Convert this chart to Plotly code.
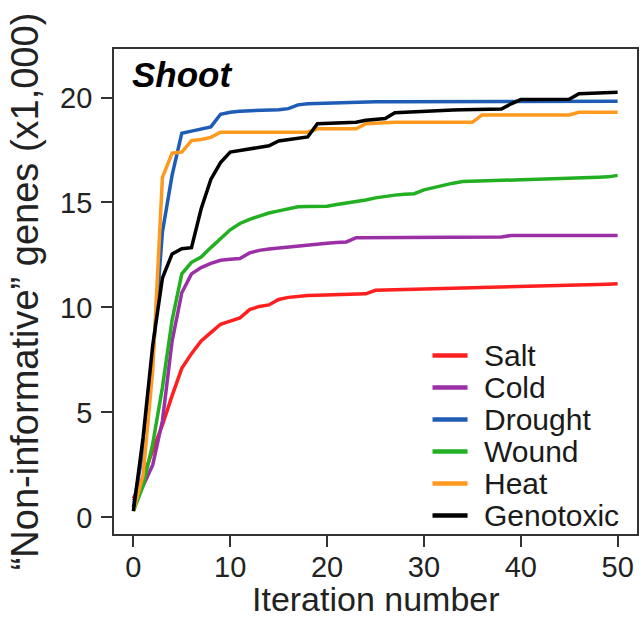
import plotly.graph_objects as go

iterations = list(range(51))

salt = [0.9, 1.9, 3.2, 4.4, 5.8, 7.1, 7.8, 8.4, 8.8, 9.2, 9.35, 9.5, 9.9, 10.05, 10.12,
        10.38, 10.48, 10.53, 10.57, 10.58, 10.6, 10.61, 10.62, 10.63, 10.65, 10.82, 10.84,
        10.85, 10.86, 10.87, 10.88, 10.89, 10.9, 10.91, 10.92, 10.93, 10.94, 10.95, 10.96,
        10.97, 10.98, 10.99, 11.0, 11.02, 11.04, 11.06, 11.08, 11.09, 11.1, 11.11, 11.13]
cold = [0.8, 1.5, 2.5, 4.6, 8.4, 10.7, 11.6, 11.9, 12.1, 12.25, 12.3, 12.33, 12.6, 12.72,
        12.78, 12.83, 12.9, 12.95, 13.0, 13.03, 13.06, 13.09, 13.12, 13.32, 13.32, 13.32,
        13.33, 13.33, 13.33, 13.33, 13.34, 13.34, 13.34, 13.34, 13.35, 13.35, 13.35, 13.35,
        13.36, 13.43, 13.43, 13.43, 13.43, 13.43, 13.43, 13.43, 13.43, 13.43, 13.43, 13.43, 13.43]
drought = [0.5, 3.2, 7.6, 13.6, 16.3, 18.3, 18.4, 18.5, 18.6, 19.2, 19.3, 19.35, 19.36,
           19.37, 19.39, 19.42, 19.47, 19.65, 19.7, 19.72, 19.74, 19.76, 19.77, 19.78, 19.79,
           19.8, 19.8, 19.8, 19.8, 19.8, 19.81, 19.81, 19.81, 19.81, 19.81, 19.82, 19.82, 19.82,
           19.82, 19.82, 19.82, 19.82, 19.82, 19.82, 19.82, 19.82, 19.82, 19.82, 19.82, 19.82, 19.82]
wound = [0.3, 1.5, 3.5, 6.2, 9.4, 11.6, 12.15, 12.4, 12.85, 13.3, 13.7, 14.0, 14.2, 14.35,
         14.5, 14.6, 14.7, 14.8, 14.81, 14.81, 14.82, 14.9, 14.97, 15.03, 15.12, 15.22, 15.3,
         15.35, 15.39, 15.42, 15.6, 15.72, 15.83, 15.92, 16.0, 16.02, 16.04, 16.05, 16.06,
         16.07, 16.08, 16.09, 16.1, 16.12, 16.14, 16.16, 16.18, 16.19, 16.2, 16.22, 16.29]
heat = [0.3, 2.0, 7.0, 16.2, 17.35, 17.4, 17.95, 18.0, 18.1, 18.35, 18.35, 18.35, 18.35,
        18.35, 18.35, 18.35, 18.35, 18.35, 18.35, 18.51, 18.51, 18.51, 18.51, 18.51, 18.75,
        18.78, 18.8, 18.82, 18.82, 18.82, 18.82, 18.82, 18.82, 18.82, 18.82, 18.82, 19.17,
        19.17, 19.17, 19.17, 19.17, 19.17, 19.17, 19.17, 19.17, 19.17, 19.3, 19.3, 19.3, 19.3, 19.3]
genotoxic = [0.3, 3.8, 8.2, 11.4, 12.55, 12.8, 12.85, 14.7, 16.1, 16.9, 17.4, 17.48, 17.55,
             17.65, 17.7, 17.93, 18.0, 18.05, 18.12, 18.75, 18.77, 18.78, 18.8, 18.82, 18.92,
             18.96, 19.0, 19.27, 19.3, 19.3, 19.33, 19.38, 19.41, 19.41, 19.42, 19.42, 19.43,
             19.43, 19.45, 19.7, 19.9, 19.9, 19.9, 19.9, 19.9, 19.92, 20.18, 20.2, 20.22, 20.24, 20.25]

series_names = ["Salt", "Cold", "Drought", "Wound", "Heat", "Genotoxic"]
series_values = [salt, cold, drought, wound, heat, genotoxic]
series_colors = ["#FF1F1F", "#9A2FA6", "#1F5CB5", "#22B022", "#FF9A1E", "#000000"]

x_ticks = [0, 10, 20, 30, 40, 50]
y_ticks = [0, 5, 10, 15, 20]

x_title = "Iteration number"
y_title = "\u201cNon-informative\u201d genes (x1,000)"

FONT = "Liberation Sans, Arial, Helvetica, sans-serif"

fig = go.Figure()
for name, vals, col in zip(series_names, series_values, series_colors):
    fig.add_trace(go.Scatter(x=iterations, y=vals, mode="lines", name=name,
                             line=dict(color=col, width=3.5), showlegend=False))

# legend drawn as text annotations with key lines (paper coordinates)
leg_x0, leg_x1, leg_tx = 0.609, 0.676, 0.703
leg_y_top, leg_dy = 0.368, 0.066
for k, (name, col) in enumerate(zip(series_names, series_colors)):
    yy = leg_y_top - k * leg_dy
    fig.add_shape(type="line", xref="paper", yref="paper", x0=leg_x0, x1=leg_x1,
                  y0=yy, y1=yy, line=dict(color=col, width=4.5))
    fig.add_annotation(xref="paper", yref="paper", x=leg_tx, y=yy, text=name,
                       showarrow=False, xanchor="left", yanchor="middle",
                       font=dict(family=FONT, size=30, color="#1a1a1a"))

fig.add_annotation(xref="x", yref="y", x=-0.3, y=21.1, text="<b><i>Shoot</i></b>",
                   showarrow=False, xanchor="left", yanchor="middle",
                   font=dict(family=FONT, size=35, color="#000000"))

# x-axis title placed just under the tick labels
fig.add_annotation(xref="paper", yref="paper", x=0.5, y=-0.1773, text=x_title,
                   showarrow=False, xanchor="center", yanchor="bottom",
                   font=dict(family=FONT, size=34, color="#222222"))

axis_common = dict(showline=True, mirror=True, linecolor="#333333", linewidth=1.8,
                   ticks="outside", ticklen=11, tickwidth=1.8, tickcolor="#333333",
                   showgrid=False, zeroline=False,
                   tickfont=dict(family=FONT, size=29, color="#222222"))

fig.update_xaxes(range=[-2, 52], tickvals=x_ticks, ticktext=[str(v) for v in x_ticks],
                 ticklabelstandoff=-5, **axis_common)
fig.update_yaxes(range=[-0.79, 22.31], tickvals=y_ticks, ticktext=[str(v) for v in y_ticks],
                 title=dict(text=y_title,
                            font=dict(family=FONT, size=38, color="#222222"), standoff=10),
                 ticklabelstandoff=3, **axis_common)

fig.update_layout(width=641, height=620, margin=dict(l=114, r=4, t=49, b=86, autoexpand=False),
                  paper_bgcolor="white", plot_bgcolor="white")

fig.write_html("out.html")
